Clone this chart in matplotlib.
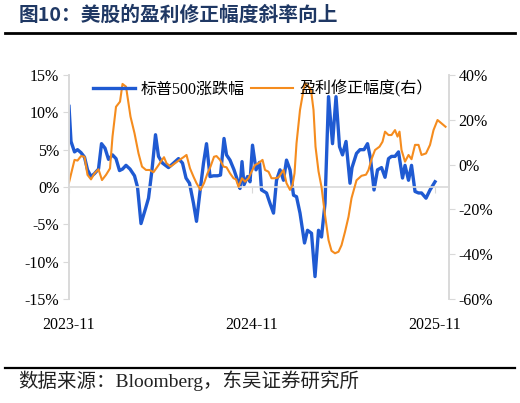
import matplotlib
matplotlib.use("Agg")
import matplotlib.pyplot as plt
from matplotlib.ticker import FuncFormatter
import pandas as pd

plt.rcParams['font.family'] = ['Liberation Serif', 'Noto Sans CJK SC', 'DejaVu Sans']

# --- data (%, weekly-ish) ---
sp_dates = ["2023-11-01", "2023-11-05", "2023-11-12", "2023-11-18", "2023-11-25", "2023-12-02",
            "2023-12-08", "2023-12-15", "2023-12-22", "2023-12-30",
            "2024-01-05", "2024-01-12", "2024-01-19", "2024-01-27", "2024-02-03", "2024-02-10",
            "2024-02-16", "2024-02-23", "2024-03-02", "2024-03-11", "2024-03-17", "2024-03-24",
            "2024-04-02", "2024-04-08", "2024-04-15", "2024-04-22", "2024-04-28", "2024-05-06",
            "2024-05-18", "2024-05-28", "2024-06-07", "2024-06-15", "2024-06-22", "2024-06-29",
            "2024-07-07", "2024-07-13", "2024-07-20", "2024-07-27", "2024-08-02", "2024-08-09",
            "2024-08-16", "2024-08-24", "2024-08-30", "2024-09-06", "2024-09-11", "2024-09-18",
            "2024-09-26", "2024-10-03", "2024-10-08", "2024-10-12", "2024-10-16", "2024-10-23",
            "2024-10-28", "2024-11-02", "2024-11-09", "2024-11-16", "2024-11-20", "2024-11-30",
            "2024-12-07", "2024-12-14", "2024-12-20", "2024-12-27",
            "2025-01-03", "2025-01-09", "2025-01-16", "2025-01-23", "2025-01-29", "2025-02-05",
            "2025-02-14", "2025-02-20", "2025-02-28", "2025-03-07", "2025-03-14", "2025-03-20",
            "2025-03-27", "2025-04-03", "2025-04-11", "2025-04-18", "2025-04-25", "2025-05-01",
            "2025-05-08", "2025-05-16", "2025-05-20", "2025-05-29", "2025-06-05", "2025-06-13",
            "2025-06-20", "2025-06-26", "2025-07-03", "2025-07-10", "2025-07-18", "2025-07-25",
            "2025-08-01", "2025-08-07", "2025-08-14", "2025-08-21", "2025-08-29", "2025-09-03",
            "2025-09-10", "2025-09-16", "2025-09-23", "2025-09-30", "2025-10-06", "2025-10-15",
            "2025-10-23", "2025-11-02"]
sp_chg = [10.8, 6.1, 4.7, 5.0, 4.6, 4.0, 2.3, 1.4, 1.8, 2.4,
          5.8, 5.2, 3.7, 4.3, 3.8, 2.2, 2.4, 2.9, 2.4, 1.5, 0.0, -4.9,
          -2.9, -1.5, 2.3, 7.0, 4.1, 3.2, 2.6, 3.2, 3.8, 3.2, 1.2, 0.5,
          -2.2, -4.6, -0.6, 3.2, 5.8, 1.4, 1.5, 1.5, 1.6, 6.5, 4.3, 3.6,
          2.3, 0.9, -0.2, 3.4, 0.3, 1.4, 0.7, 5.6, 2.3, 3.3, -0.4, -0.8,
          -2.2, -3.5, 0.9, 2.3,
          0.9, 3.6, 2.3, -1.1, -1.3, -3.5, -7.5, -5.8, -6.2, -12.0, -5.8, -6.7,
          -2.2, 12.1, 5.8, 12.1, 5.4, 4.3, 6.1, 0.5, 2.6, 4.5, 5.0, 5.0,
          5.8, 3.8, -0.4, 2.3, 2.6, 1.3, 3.8, 4.1, 4.1, 4.7, 1.2, 2.9,
          0.9, 2.9, -0.6, -0.8, -0.8, -1.5, -0.4, 0.7]

rev_dates = ["2023-11-01", "2023-11-12", "2023-11-18", "2023-11-25", "2023-12-02", "2023-12-08",
             "2023-12-15", "2023-12-22", "2023-12-30",
             "2024-01-06", "2024-01-14", "2024-01-22", "2024-01-27", "2024-02-03", "2024-02-11",
             "2024-02-16", "2024-02-23", "2024-03-03", "2024-03-11", "2024-03-19", "2024-03-26",
             "2024-04-03", "2024-04-10", "2024-04-18", "2024-04-26", "2024-05-05", "2024-05-09",
             "2024-05-14", "2024-05-22", "2024-05-31", "2024-06-09", "2024-06-17", "2024-06-23",
             "2024-06-30", "2024-07-07", "2024-07-13", "2024-07-21", "2024-07-28", "2024-08-04",
             "2024-08-10", "2024-08-17", "2024-08-22", "2024-08-29", "2024-09-05", "2024-09-11",
             "2024-09-18", "2024-09-25", "2024-09-30", "2024-10-05", "2024-10-12", "2024-10-18",
             "2024-10-25", "2024-10-31", "2024-11-07", "2024-11-14", "2024-11-22", "2024-11-27",
             "2024-12-04", "2024-12-10", "2024-12-17", "2024-12-24",
             "2025-01-03", "2025-01-09", "2025-01-16", "2025-01-21", "2025-01-25", "2025-01-29",
             "2025-02-05", "2025-02-12", "2025-02-15", "2025-02-22", "2025-02-27", "2025-03-04",
             "2025-03-08", "2025-03-14", "2025-03-20", "2025-03-27", "2025-04-03", "2025-04-09",
             "2025-04-16", "2025-04-23", "2025-04-29", "2025-05-06", "2025-05-13", "2025-05-19",
             "2025-05-29", "2025-06-08", "2025-06-17", "2025-06-22", "2025-06-28", "2025-07-05",
             "2025-07-14", "2025-07-20", "2025-07-25", "2025-08-01", "2025-08-07", "2025-08-14",
             "2025-08-19", "2025-08-23", "2025-08-27", "2025-09-03", "2025-09-10", "2025-09-16",
             "2025-09-23", "2025-09-30", "2025-10-06", "2025-10-15", "2025-10-23", "2025-10-30",
             "2025-11-07", "2025-11-15", "2025-11-23"]
rev_chg = [-8.0, 2.1, 1.8, 3.8, 3.5, -4.6, -6.6, -3.9, -2.1,
           -6.9, -4.6, -1.7, 12.5, 25.8, 28.1, 36.0, 34.8, 21.4, 14.0, 5.0, -0.9,
           -2.4, -2.4, -3.4, -0.9, 2.1, 3.3, 0.6, -0.9, 0.6, 2.1, 3.3, 4.3,
           -1.7, -5.4, -8.3, -11.3, -8.3, -3.9, -0.9, 3.5, 3.8, 2.1, -0.9, -1.2,
           -3.9, -6.1, -6.6, -9.9, -6.1, -7.6, -6.1, -3.2, -0.2, 0.6, 2.1, -2.4,
           -3.2, -6.1, -6.1, -5.7,
           -2.4, -8.3, -11.3, -9.1, -3.9, 9.5, 24.4, 33.3, 36.3, 34.8, 33.3, 24.4,
           8.0, -3.0, -10.0, -22.5, -33.7, -38.5, -39.6, -38.9, -36.0, -30.0, -23.3, -15.0,
           -7.0, -5.0, -4.5, -2.4, 2.4, 6.5, 8.0, 10.2, 14.7, 13.2, 13.2, 15.4,
           12.5, 14.7, 6.5, 1.3, 4.3, 2.4, 8.8, 8.8, 4.3, 5.0, 8.8, 15.4,
           19.9, 18.4, 16.9]

x_ticks = ["2023-11-01", "2024-11-01", "2025-11-01"]
x_ticklabels = ["2023-11", "2024-11", "2025-11"]

sp_x = pd.to_datetime(sp_dates)
rev_x = pd.to_datetime(rev_dates)

blue = "#1F5AD2"
orange = "#F58C1E"
light = "#D9D9D9"

fig = plt.figure(figsize=(5.2, 4.03), dpi=100)
ax = fig.add_axes([0.1327, 0.2581, 0.7308, 0.5558])
ax2 = ax.twinx()

l1, = ax.plot(sp_x, sp_chg, color=blue, lw=2.4, label="标普500涨跌幅")
l2, = ax2.plot(rev_x, rev_chg, color=orange, lw=1.5, label="盈利修正幅度(右）")

ax.set_ylim(-15, 15)
ax.set_yticks(range(-15, 16, 5))
ax2.set_ylim(-60, 40)
ax2.set_yticks(range(-60, 41, 20))
pct = FuncFormatter(lambda v, p: f"{v:.0f}%")
ax.yaxis.set_major_formatter(pct)
ax2.yaxis.set_major_formatter(pct)
ax.set_xlim(pd.Timestamp("2023-11-01"), pd.Timestamp("2025-11-30"))

# spines / ticks
for a in (ax, ax2):
    a.spines['top'].set_visible(False)
    a.spines['left'].set_color(light)
    a.spines['right'].set_color(light)
    a.spines['left'].set_linewidth(1.2)
    a.spines['right'].set_linewidth(1.2)
ax2.spines['bottom'].set_visible(False)
ax.spines['bottom'].set_position(('data', 0))
ax.spines['bottom'].set_color(light)
ax.spines['bottom'].set_linewidth(1.2)
ax.set_xticks(pd.to_datetime(x_ticks))
ax.tick_params(axis='x', length=4, color=light, labelbottom=False)
ax.tick_params(axis='y', length=4, color=light, labelsize=11.5, pad=3)
ax2.tick_params(axis='y', length=4, color=light, labelsize=11.5, pad=3)

sec = ax.secondary_xaxis(0)
sec.set_xticks(pd.to_datetime(x_ticks))
sec.set_xticklabels(x_ticklabels)
sec.tick_params(length=0, labelsize=11.5, pad=13)
sec.spines['bottom'].set_visible(False)

ax2.legend(handles=[l1, l2], loc='upper center', bbox_to_anchor=(0.51, 1.04), ncol=2,
           frameon=False, fontsize=11.5, handlelength=2.6, columnspacing=0.4,
           handletextpad=0.4)

# title, rules, source
fig.text(0.035, 0.962, "图10：美股的盈利修正幅度斜率向上", fontsize=14.2, fontweight='bold',
         color="#1F3864", family=['Noto Sans CJK SC'], va='center', ha='left')
fig.add_artist(plt.Line2D([0.01, 0.99], [0.918, 0.918], color='black', lw=2))
fig.add_artist(plt.Line2D([0.01, 0.99], [0.088, 0.088], color='black', lw=1.6))
fig.text(0.035, 0.055, "数据来源：Bloomberg，东吴证券研究所", fontsize=14,
         color="#222222", va='center', ha='left')

fig.savefig("out.png", dpi=100)
